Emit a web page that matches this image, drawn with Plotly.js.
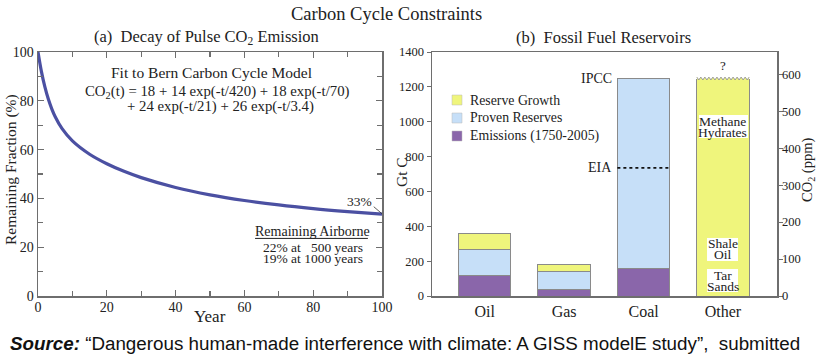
<!DOCTYPE html>
<html><head><meta charset="utf-8">
<script src="https://cdn.plot.ly/plotly-3.0.1.min.js"></script>
<style>html,body{margin:0;padding:0;background:#fff}#chart{width:818px;height:359px}</style>
</head><body><div id="chart"></div>
<script>
// Panel (a): remaining airborne fraction of a CO2 pulse
const years = [0,1,2,3,4,5,7,10,15,20,25,30,40,50,60,70,80,90,100];
const remaining = [100,91.97,85.69,80.71,76.72,73.48,68.57,63.56,58.10,54.21,51.10,48.52,44.47,41.46,39.15,37.33,35.84,34.61,33.55];

// Panel (b): fossil fuel reservoirs (Gt C)
const fuels = ['Oil','Gas','Coal','Other'];
const emissions = [115,40,155,0];
const proven = [153,102,1092,0];
const reserveGrowth = [92,38,0,1240];
const seriesNames = ['Reserve Growth','Proven Reserves','Emissions (1750-2005)'];
const eiaLevel = 735;
const gtcPerPpm = 2.12;

const serif = 'Liberation Serif, Times New Roman, serif';
const axCol = '#6e6e6e';
const ink = '#222';
const barW = 0.66;
const colEm = '#8a66aa', colPr = '#c6dff8', colRg = '#eff57c';

const traces = [];
traces.push({x: years, y: remaining, type:'scatter', mode:'lines', line:{color:'#4b50a2', width:3.2, shape:'spline'}, xaxis:'x', yaxis:'y', showlegend:false, hoverinfo:'skip'});

const idx = fuels.map((f,i)=>i);
traces.push({x: idx, y: emissions, type:'bar', name:seriesNames[2], width: barW, marker:{color:colEm, line:{color:'#8a8a8a', width:1}}, xaxis:'x2', yaxis:'y2', showlegend:false});
traces.push({x: idx, y: proven, type:'bar', name:seriesNames[1], width: barW, marker:{color:colPr, line:{color:'#8a8a8a', width:1}}, xaxis:'x2', yaxis:'y2', showlegend:false});
traces.push({x: idx, y: reserveGrowth, type:'bar', name:seriesNames[0], width: barW, marker:{color:colRg, line:{color:'#8a8a8a', width:1}}, xaxis:'x2', yaxis:'y2', showlegend:false});

// zigzag top of the "Other" bar
const oi = 3;
const otherTop = emissions[oi] + proven[oi] + reserveGrowth[oi];
const teeth = 13, amp = 16;
const zx = [], zy = [];
for (let k = 0; k <= teeth*2; k++) {
  zx.push(oi - barW/2 + barW * k/(teeth*2));
  zy.push(otherTop + (k % 2 === 0 ? amp : 0));
}
traces.push({x: [oi-barW/2+0.005, ...zx.slice(1,-1), oi+barW/2-0.005, oi+barW/2-0.005, oi-barW/2+0.005], y:[otherTop+amp, ...zy.slice(1,-1), otherTop+amp, otherTop-6, otherTop-6], type:'scatter', mode:'lines', fill:'toself', fillcolor:colRg, line:{width:0}, xaxis:'x2', yaxis:'y2', showlegend:false, hoverinfo:'skip'});
traces.push({x: zx, y: zy, type:'scatter', mode:'lines', line:{color:'#9a9a9a', width:1}, xaxis:'x2', yaxis:'y2', showlegend:false, hoverinfo:'skip'});
// EIA dashed level on coal
traces.push({x:[2-barW/2, 2+barW/2], y:[eiaLevel, eiaLevel], type:'scatter', mode:'lines', line:{color:'#111', width:1.6, dash:'dot'}, xaxis:'x2', yaxis:'y2', showlegend:false, hoverinfo:'skip'});
// invisible trace on right CO2 axis
traces.push({x:[0], y:[0], type:'scatter', mode:'markers', marker:{opacity:0}, xaxis:'x2', yaxis:'y3', showlegend:false, hoverinfo:'skip'});

const tfL = {family: serif, size: 14, color: ink};
const tfR = {family: serif, size: 12.5, color: ink};
const coalTop = emissions[2] + proven[2];
const py = p => 1 - p/359;
const px = p => p/818;

function ann(text, x, y, size, extra) {
  return Object.assign({text, x, y, showarrow:false, xanchor:'center', yanchor:'middle', font:{family:serif, size, color:ink}}, extra||{});
}
const P = {xref:'paper', yref:'paper'};
const A = {xref:'x', yref:'y'};
const B = {xref:'x2', yref:'y2'};

// legend (drawn as shapes + text)
const legendCols = [colRg, colPr, colEm];
const legendY = [100, 118, 136];
const legendShapes = legendCols.map((c,i)=>({type:'rect', xref:'paper', yref:'paper', x0:px(452), x1:px(462), y0:py(legendY[i]+5), y1:py(legendY[i]-5), fillcolor:c, line:{width:0.5, color:'#bbb'}, layer:'above'}));
const legendTexts = seriesNames.map((n,i)=>ann(n, px(468), py(legendY[i]), 13.8, Object.assign({xanchor:'left'}, P)));

// white label boxes on the "Other" bar
const box = (x0,x1,y0,y1)=>({type:'rect', xref:'x2', yref:'y2', x0, x1, y0, y1, fillcolor:'#ffffff', line:{width:0}, layer:'above'});

const layout = {
  width: 818, height: 359,
  margin:{l:0,r:0,t:0,b:0},
  paper_bgcolor:'#ffffff', plot_bgcolor:'#ffffff',
  font:{family: serif, color: ink},
  barmode:'stack', bargap:0,
  showlegend:false,
  xaxis:{domain:[px(38), px(382)], anchor:'y', range:[0,100], tickvals:[0,20,40,60,80,100], ticks:'inside', ticklen:6, tickcolor:axCol, tickwidth:1.3, ticklabelstandoff:-2,
    minor:{dtick:10, ticks:'inside', ticklen:5, tickcolor:axCol}, showline:true, linecolor:axCol, linewidth:1.5, mirror:'allticks', showgrid:false, zeroline:false, tickfont:tfL},
  yaxis:{domain:[py(296), py(52)], anchor:'x', range:[0,100], tickvals:[0,20,40,60,80,100], ticks:'inside', ticklen:6, tickcolor:axCol, tickwidth:1.3,
    minor:{dtick:10, ticks:'inside', ticklen:5, tickcolor:axCol}, showline:true, linecolor:axCol, linewidth:1.5, mirror:'allticks', showgrid:false, zeroline:false, tickfont:tfL},
  xaxis2:{domain:[px(432), px(777)], anchor:'y2', range:[-0.664, 3.68], tickvals:idx, ticktext:fuels, ticks:'', showline:true, linecolor:axCol, linewidth:1.5, mirror:true,
    showgrid:false, zeroline:false, tickfont:{family:serif, size:16, color:ink}},
  yaxis2:{domain:[py(296), py(52)], anchor:'x2', range:[0,1400], dtick:200, ticks:'outside', ticklen:4, tickcolor:axCol, showline:true, linecolor:axCol, linewidth:1.5,
    showgrid:false, zeroline:false, tickfont:tfR},
  yaxis3:{overlaying:'y2', side:'right', anchor:'x2', range:[0, 1400/gtcPerPpm], dtick:100, ticks:'outside', ticklen:4, tickcolor:axCol, ticklabelstandoff:-3, showline:true, linecolor:axCol, linewidth:1.5,
    showgrid:false, zeroline:false, tickfont:tfR},
  shapes:[
    {type:'line', xref:'x', yref:'y', x0:63.1, x1:95.9, y0:23.6, y1:23.6, line:{color:ink, width:1}},
    {type:'line', xref:'x', yref:'y', x0:97.6, x1:100, y0:36.6, y1:33.7, line:{color:'#333', width:0.8}},
    box(2.698, 3.315, 906, 1038),
    box(2.799, 3.189, 201, 333),
    box(2.799, 3.189, 23, 155),
    ...legendShapes
  ],
  annotations:[
    ann('Carbon Cycle Constraints', px(386), py(14), 18.5, P),
    ann('(a)&nbsp;&nbsp;Decay of Pulse CO<sub>2</sub> Emission', px(207), py(37), 16.5, P),
    ann('(b)&nbsp;&nbsp;Fossil Fuel Reservoirs', px(603), py(37), 16.5, P),
    ann('Remaining Fraction (%)', px(11), py(170), 15.5, Object.assign({textangle:-90}, P)),
    ann('Year', px(210), py(316), 17, P),
    ann('Gt C', px(401), py(172), 15.5, Object.assign({textangle:-90}, P)),
    ann('CO<sub>2</sub> (ppm)', px(808), py(170), 14.5, Object.assign({textangle:-90}, P)),
    ann('Fit to Bern Carbon Cycle Model', 50.3, 91.8, 15.5, A),
    ann('CO<sub>2</sub>(t) = 18 + 14 exp(-t/420) + 18 exp(-t/70)', 52.2, 83.6, 14.8, A),
    ann('+ 24 exp(-t/21) + 26 exp(-t/3.4)', 53.1, 77.5, 14.8, A),
    ann('33%', 97.6, 38.6, 13.5, Object.assign({xanchor:'right'}, A)),
    ann('Remaining Airborne', 79.7, 26.6, 14, A),
    ann('22% at&nbsp;&nbsp;&nbsp;500 years', 79.8, 19.8, 13.5, A),
    ann('19% at 1000 years', 79.8, 15.2, 13.5, A),
    ann('IPCC', 2-barW/2, coalTop, 14, Object.assign({xanchor:'right', xshift:-3}, B)),
    ann('EIA', 2-barW/2, eiaLevel, 14, Object.assign({xanchor:'right', xshift:-3}, B)),
    ann('?', 3, otherTop+amp, 13, Object.assign({yanchor:'bottom', yshift:2}, B)),
    ann('Methane', 3, 1002, 13.5, B),
    ann('Hydrates', 3, 937, 13.5, B),
    ann('Shale', 3, 302, 13.5, B),
    ann('Oil', 3, 236, 13.5, B),
    ann('Tar', 3, 120, 13.5, B),
    ann('Sands', 3, 55, 13.5, B),
    ...legendTexts,
    {text:'<b><i>Source:</i></b> “Dangerous human-made interference with climate: A GISS modelE study”,&nbsp;&nbsp;submitted', xref:'paper', yref:'paper', x:px(8), y:py(343), xanchor:'left', yanchor:'middle', showarrow:false, font:{family:'Liberation Sans, Arial, sans-serif', size:18.8, color:'#111'}}
  ]
};
Plotly.newPlot('chart', traces, layout, {staticPlot:true, displayModeBar:false});
</script></body></html>
